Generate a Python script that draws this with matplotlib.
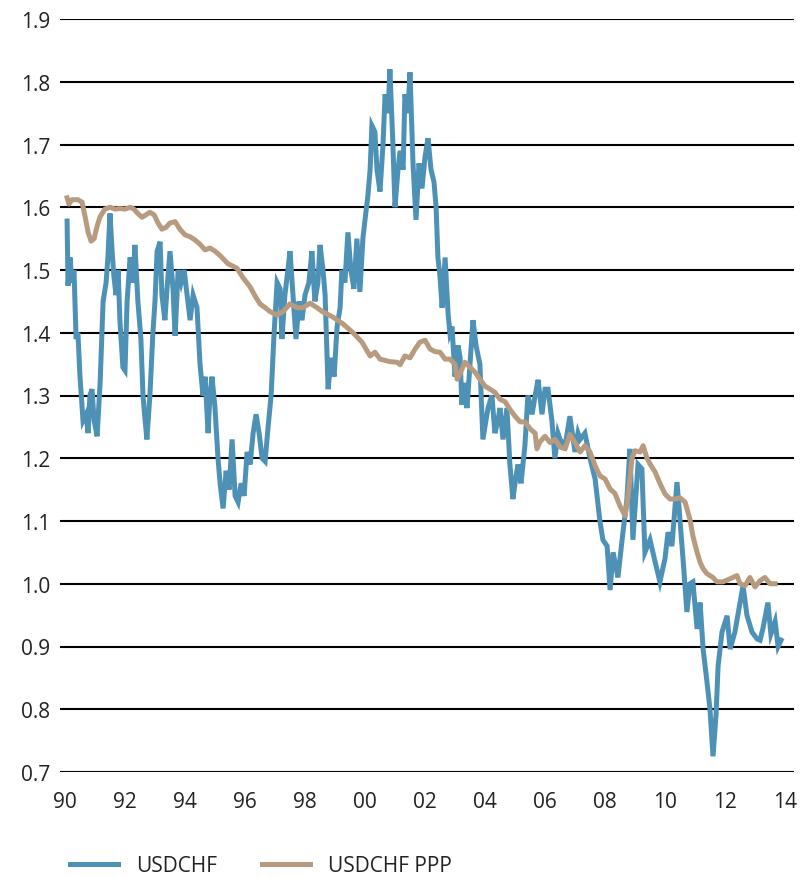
import matplotlib
matplotlib.use("Agg")
from matplotlib import pyplot as plt

plt.rcParams['font.family'] = ['Open Sans', 'DejaVu Sans']

# USDCHF spot, (decimal year, value)
usdchf_year = [
    1990.07, 1990.10, 1990.17, 1990.23, 1990.30, 1990.37, 1990.43, 1990.50, 1990.60, 1990.70,
    1990.77, 1990.83, 1990.90, 1990.97, 1991.07, 1991.17, 1991.27, 1991.37, 1991.43, 1991.50,
    1991.57, 1991.63, 1991.70, 1991.77, 1991.83, 1991.93, 1992.00, 1992.07, 1992.17, 1992.27,
    1992.33, 1992.43, 1992.53, 1992.60, 1992.67, 1992.73, 1992.83, 1992.93, 1993.00, 1993.07,
    1993.17, 1993.23, 1993.33, 1993.40, 1993.50, 1993.60, 1993.67, 1993.77, 1993.87, 1993.97,
    1994.07, 1994.17, 1994.27, 1994.40, 1994.50, 1994.60, 1994.67, 1994.77, 1994.83, 1994.90,
    1995.00, 1995.10, 1995.17, 1995.27, 1995.37, 1995.47, 1995.57, 1995.67, 1995.77, 1995.87,
    1995.97, 1996.07, 1996.17, 1996.27, 1996.37, 1996.47, 1996.57, 1996.67, 1996.77, 1996.87,
    1996.97, 1997.07, 1997.17, 1997.23, 1997.33, 1997.43, 1997.50, 1997.60, 1997.70, 1997.80,
    1997.90, 1998.00, 1998.13, 1998.23, 1998.33, 1998.43, 1998.50, 1998.60, 1998.67, 1998.77,
    1998.87, 1998.97, 1999.07, 1999.17, 1999.23, 1999.33, 1999.43, 1999.53, 1999.63, 1999.73,
    1999.83, 1999.93, 2000.00, 2000.10, 2000.17, 2000.23, 2000.33, 2000.40, 2000.50, 2000.60,
    2000.67, 2000.77, 2000.83, 2000.93, 2001.00, 2001.10, 2001.17, 2001.27, 2001.33, 2001.43,
    2001.50, 2001.60, 2001.70, 2001.80, 2001.90, 2002.00, 2002.10, 2002.20, 2002.30, 2002.37,
    2002.43, 2002.50, 2002.57, 2002.67, 2002.77, 2002.83, 2002.90, 2003.00, 2003.10, 2003.17,
    2003.23, 2003.30, 2003.40, 2003.50, 2003.60, 2003.70, 2003.83, 2003.93, 2004.03, 2004.10,
    2004.23, 2004.33, 2004.43, 2004.50, 2004.60, 2004.73, 2004.83, 2004.93, 2005.03, 2005.10,
    2005.20, 2005.33, 2005.43, 2005.57, 2005.67, 2005.77, 2005.90, 2006.00, 2006.10, 2006.23,
    2006.33, 2006.43, 2006.50, 2006.67, 2006.83, 2007.00, 2007.10, 2007.17, 2007.33, 2007.50,
    2007.67, 2007.83, 2007.93, 2008.07, 2008.17, 2008.27, 2008.43, 2008.57, 2008.73, 2008.83,
    2008.93, 2009.10, 2009.23, 2009.33, 2009.50, 2009.67, 2009.83, 2010.00, 2010.10, 2010.23,
    2010.40, 2010.50, 2010.60, 2010.73, 2010.83, 2010.93, 2011.07, 2011.17, 2011.27, 2011.40,
    2011.50, 2011.60, 2011.70, 2011.77, 2011.90, 2012.07, 2012.17, 2012.33, 2012.50, 2012.60,
    2012.73, 2012.90, 2013.07, 2013.17, 2013.27, 2013.43, 2013.53, 2013.67, 2013.77, 2013.87,
]
usdchf = [
    1.578, 1.475, 1.52, 1.48, 1.50, 1.39, 1.40, 1.33, 1.26, 1.27,
    1.24, 1.30, 1.31, 1.26, 1.235, 1.32, 1.45, 1.48, 1.52, 1.59,
    1.53, 1.49, 1.46, 1.50, 1.42, 1.345, 1.34, 1.45, 1.52, 1.48,
    1.54, 1.45, 1.39, 1.30, 1.26, 1.23, 1.30, 1.40, 1.45, 1.53,
    1.545, 1.46, 1.42, 1.47, 1.53, 1.47, 1.395, 1.50, 1.48, 1.50,
    1.46, 1.42, 1.46, 1.44, 1.35, 1.30, 1.33, 1.24, 1.30, 1.33,
    1.28, 1.20, 1.16, 1.12, 1.18, 1.15, 1.23, 1.14, 1.13, 1.16,
    1.14, 1.21, 1.19, 1.24, 1.27, 1.24, 1.20, 1.195, 1.25, 1.30,
    1.40, 1.48, 1.47, 1.39, 1.46, 1.50, 1.53, 1.46, 1.39, 1.45,
    1.42, 1.46, 1.48, 1.53, 1.45, 1.48, 1.54, 1.50, 1.46, 1.31,
    1.36, 1.33, 1.41, 1.44, 1.50, 1.48, 1.56, 1.50, 1.47, 1.55,
    1.465, 1.55, 1.58, 1.62, 1.66, 1.73, 1.72, 1.66, 1.625, 1.70,
    1.78, 1.75, 1.82, 1.70, 1.60, 1.66, 1.69, 1.66, 1.78, 1.75,
    1.815, 1.67, 1.58, 1.67, 1.63, 1.68, 1.71, 1.66, 1.64, 1.60,
    1.52, 1.49, 1.44, 1.52, 1.43, 1.40, 1.41, 1.33, 1.38, 1.36,
    1.285, 1.32, 1.28, 1.35, 1.42, 1.38, 1.35, 1.23, 1.26, 1.28,
    1.30, 1.24, 1.26, 1.28, 1.23, 1.28, 1.19, 1.135, 1.17, 1.19,
    1.16, 1.22, 1.30, 1.27, 1.30, 1.325, 1.27, 1.31, 1.31, 1.26,
    1.20, 1.24, 1.23, 1.22, 1.267, 1.21, 1.24, 1.23, 1.24, 1.20,
    1.167, 1.10, 1.07, 1.06, 0.99, 1.05, 1.01, 1.07, 1.135, 1.215,
    1.07, 1.19, 1.183, 1.05, 1.07, 1.035, 1.003, 1.04, 1.082, 1.06,
    1.162, 1.10, 1.04, 0.955, 1.00, 1.003, 0.928, 0.97, 0.896, 0.843,
    0.80, 0.725, 0.79, 0.869, 0.923, 0.949, 0.896, 0.923, 0.97, 0.997,
    0.95, 0.923, 0.912, 0.91, 0.93, 0.97, 0.92, 0.94, 0.90, 0.91,
]

# USDCHF purchasing power parity
ppp_year = [
    1990.07, 1990.13, 1990.23, 1990.43, 1990.57, 1990.67, 1990.77, 1990.87, 1990.97, 1991.07,
    1991.17, 1991.33, 1991.50, 1991.67, 1991.83, 1992.00, 1992.17, 1992.30, 1992.43, 1992.57,
    1992.70, 1992.83, 1992.97, 1993.10, 1993.23, 1993.37, 1993.50, 1993.67, 1993.83, 1994.00,
    1994.17, 1994.33, 1994.50, 1994.67, 1994.83, 1995.00, 1995.17, 1995.43, 1995.73, 1995.93,
    1996.17, 1996.33, 1996.50, 1996.67, 1996.83, 1997.07, 1997.27, 1997.50, 1997.73, 1997.93,
    1998.17, 1998.40, 1998.60, 1998.93, 1999.27, 1999.60, 1999.90, 2000.17, 2000.33, 2000.50,
    2000.83, 2001.07, 2001.17, 2001.33, 2001.50, 2001.67, 2001.83, 2002.00, 2002.17, 2002.33,
    2002.50, 2002.67, 2002.83, 2003.00, 2003.07, 2003.17, 2003.33, 2003.50, 2003.67, 2003.83,
    2004.00, 2004.17, 2004.33, 2004.50, 2004.67, 2004.83, 2005.00, 2005.17, 2005.33, 2005.50,
    2005.67, 2005.73, 2005.83, 2006.00, 2006.17, 2006.33, 2006.50, 2006.67, 2006.83, 2007.00,
    2007.17, 2007.33, 2007.50, 2007.67, 2007.83, 2008.00, 2008.17, 2008.33, 2008.50, 2008.67,
    2008.77, 2008.90, 2009.00, 2009.17, 2009.27, 2009.40, 2009.50, 2009.67, 2009.83, 2010.00,
    2010.17, 2010.33, 2010.50, 2010.67, 2010.83, 2010.93, 2011.07, 2011.17, 2011.27, 2011.40,
    2011.60, 2011.73, 2011.93, 2012.17, 2012.40, 2012.50, 2012.67, 2012.83, 2013.00, 2013.17,
    2013.33, 2013.50, 2013.67,
]
ppp = [
    1.615, 1.605, 1.612, 1.612, 1.608, 1.585, 1.56, 1.546, 1.55, 1.57,
    1.585, 1.597, 1.60, 1.597, 1.598, 1.597, 1.60, 1.597, 1.59, 1.584,
    1.588, 1.592, 1.588, 1.575, 1.565, 1.568, 1.575, 1.577, 1.565, 1.556,
    1.553, 1.548, 1.541, 1.532, 1.535, 1.53, 1.523, 1.51, 1.503, 1.488,
    1.473, 1.459, 1.446, 1.44, 1.434, 1.428, 1.434, 1.446, 1.44, 1.44,
    1.447, 1.44, 1.433, 1.425, 1.414, 1.40, 1.385, 1.363, 1.369, 1.358,
    1.354, 1.353, 1.349, 1.363, 1.36, 1.374, 1.385, 1.388, 1.374, 1.37,
    1.369, 1.358, 1.358, 1.35, 1.326, 1.335, 1.353, 1.345, 1.337, 1.326,
    1.315, 1.31, 1.305, 1.294, 1.29, 1.278, 1.267, 1.258, 1.258, 1.247,
    1.24, 1.215, 1.226, 1.235, 1.225, 1.23, 1.218, 1.215, 1.238, 1.225,
    1.21, 1.22, 1.21, 1.188, 1.172, 1.167, 1.151, 1.144, 1.124, 1.108,
    1.14, 1.20, 1.212, 1.21, 1.22, 1.20, 1.191, 1.178, 1.16, 1.143,
    1.135, 1.135, 1.137, 1.13, 1.103, 1.076, 1.05, 1.034, 1.024, 1.016,
    1.01, 1.003, 1.003, 1.008, 1.013, 1.0, 0.997, 1.01, 0.995, 1.005,
    1.01, 1.0, 1.0,
]

year_ticks = list(range(1990, 2015, 2))
year_labels = [f"{y % 100:02d}" for y in year_ticks]
value_ticks = [0.7, 0.8, 0.9, 1.0, 1.1, 1.2, 1.3, 1.4, 1.5, 1.6, 1.7, 1.8, 1.9]

fig = plt.figure(figsize=(8.07, 8.78), dpi=100)
ax = fig.add_axes([60 / 807, 1 - 773 / 878, 734 / 807, 753 / 878])

ax.plot(usdchf_year, usdchf, color='#4d92b6', lw=3.6, label='USDCHF',
        solid_joinstyle='miter', zorder=3)
ax.plot(ppp_year, ppp, color='#b89b7f', lw=3.6, label='USDCHF PPP', zorder=4)

ax.set_xlim(1990 - 5 / 30, 1990 + 729 / 30)
ax.set_ylim(0.7, 1.9)
ax.set_xticks(year_ticks)
ax.set_xticklabels(year_labels)
ax.set_yticks(value_ticks)
ax.set_yticklabels([f"{v:.1f}" for v in value_ticks])
ax.yaxis.grid(True, color='black', lw=1.5)
ax.set_axisbelow(True)
for s in ax.spines.values():
    s.set_visible(False)
ax.tick_params(axis='both', length=0, labelsize=15, colors='#222222')
ax.tick_params(axis='y', pad=7)
ax.tick_params(axis='x', pad=14)

fig.legend(loc='center left', bbox_to_anchor=(70 / 807, 1 - 867 / 878), ncol=2,
           frameon=False, fontsize=15, handlelength=2.3, handletextpad=0.85,
           columnspacing=2.2, borderpad=0, borderaxespad=0, labelcolor='#222222')

fig.savefig('out.png', dpi=100)
